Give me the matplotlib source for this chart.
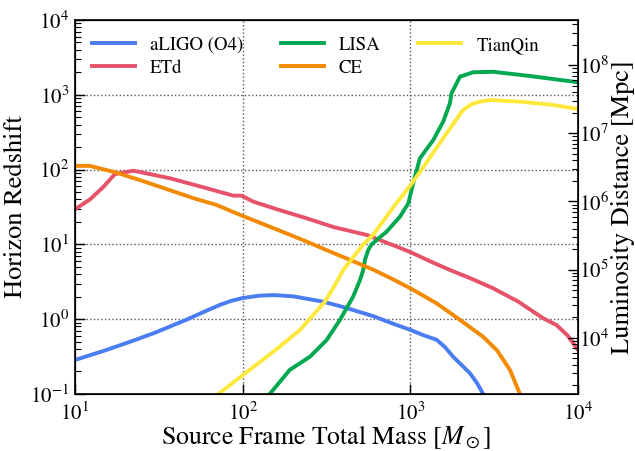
import numpy as np
import matplotlib.pyplot as plt

plt.rcParams['font.family'] = ['STIXGeneral', 'DejaVu Serif']
plt.rcParams['mathtext.fontset'] = 'stix'
plt.rcParams['axes.unicode_minus'] = False

# horizon redshift vs source-frame total mass for each detector
aligo_mass = [10, 15, 23, 30, 46, 60, 73, 85, 100, 125, 155, 200, 300, 400, 600, 800,
              1000, 1200, 1435, 1600, 1800, 2000, 2265, 2500, 2720, 2900]
aligo_z = [0.285, 0.38, 0.53, 0.66, 0.98, 1.28, 1.55, 1.75, 1.92, 2.06, 2.1, 2.02, 1.72,
           1.45, 1.1, 0.86, 0.72, 0.61, 0.53, 0.43, 0.315, 0.25, 0.19, 0.14, 0.1, 0.07]

etd_mass = [10, 12.3, 14.8, 17.3, 22.3, 36.9, 58.2, 88, 98.6, 110, 116, 160, 241, 350,
            548, 750, 1000, 1300, 1722, 2300, 3119, 4400, 6194, 7447, 8700, 9817, 10000]
etd_z = [29.5, 40, 59, 87, 96.6, 76.5, 58, 44.8, 44.8, 39.5, 37.2, 29.5, 22.3, 17.0,
         13.4, 10.2, 7.9, 6.0, 4.55, 3.5, 2.59, 1.72, 1.03, 0.835, 0.6, 0.41, 0.39]

lisa_mass = [145, 191, 252, 317, 380, 456, 500, 524, 536, 561, 587, 722, 867, 973,
             1040, 1140, 1371, 1570, 1722, 1762, 1977, 2371, 3119, 5164, 10000]
lisa_z = [0.1, 0.21, 0.315, 0.527, 0.975, 2.0, 3.3, 4.55, 6.2, 8.4, 10, 14.8, 23.4, 35.4,
          65.6, 141, 249, 436, 769, 1047, 1746, 2000, 2030, 1782, 1470]

ce_mass = [10, 12.3, 17.7, 25, 36.9, 50, 70, 100, 115, 160, 241, 320, 437, 600, 791,
           1000, 1435, 1977, 2723, 3300, 3926, 4508, 4700]
ce_z = [112, 112, 91, 71, 53, 42, 33.6, 24, 21.2, 15.8, 10.9, 8.3, 6.2, 4.6, 3.4,
        2.59, 1.63, 0.98, 0.58, 0.38, 0.21, 0.1, 0.07]

tq_mass = [60, 71.6, 110, 160, 220, 309, 350, 398, 524, 601, 828, 1000, 1250, 1644,
           2065, 2350, 2600, 2985, 4508, 7112, 10000]
tq_z = [0.075, 0.1, 0.21, 0.4, 0.72, 1.71, 2.7, 4.55, 10, 13.5, 36, 61, 125, 305,
        627, 760, 809, 851, 809, 731, 645]

fig = plt.figure(figsize=(6.35, 4.51), dpi=100)
ax = fig.add_axes([0.1181, 0.1264, 0.7921, 0.8293])

lw = 2.8
ax.plot(aligo_mass, aligo_z, color='#4a7cf2', lw=lw, label='aLIGO (O4)')
ax.plot(etd_mass, etd_z, color='#e5526a', lw=lw, label='ETd')
ax.plot(lisa_mass, lisa_z, color='#00a84f', lw=lw, label='LISA')
ax.plot(ce_mass, ce_z, color='#f28a00', lw=lw, label='CE')
ax.plot(tq_mass, tq_z, color='#ffe83c', lw=lw, label='TianQin')

ax.set_xscale('log')
ax.set_yscale('log')
ax.set_xlim(10, 1e4)
ax.set_ylim(0.1, 1e4)
ax.grid(True, which='major', linestyle=':', color='#555555', lw=1.0)
ax.set_xlabel(r'Source Frame Total Mass [$M_\odot$]', fontsize=18.5, labelpad=-1)
ax.set_ylabel('Horizon Redshift', fontsize=19, labelpad=2)

ax.tick_params(axis='both', which='major', direction='in', labelsize=15, length=7,
               width=1)
ax.tick_params(axis='x', which='major', pad=6)
ax.tick_params(axis='y', which='major', pad=4)
ax.tick_params(axis='y', which='minor', direction='in', length=4, width=0.8)
ax.tick_params(axis='x', which='minor', bottom=False)
for s in ax.spines.values():
    s.set_linewidth(1.2)

ax2 = ax.twinx()
ax2.set_yscale('log')
ax2.set_ylim(1.5e3, 4.6e8)
ax2.tick_params(axis='y', which='major', direction='in', labelsize=15, length=7,
                width=1, pad=1)
ax2.tick_params(axis='y', which='minor', direction='in', length=4, width=0.8)
ax2.set_ylabel('Luminosity Distance [Mpc]', fontsize=19, labelpad=1)

ax.legend(loc='upper left', ncol=3, frameon=False, fontsize=13.5,
          handlelength=2.3, columnspacing=2.0, labelspacing=0.3,
          bbox_to_anchor=(0.0, 1.0))

fig.savefig('out.png', dpi=100)
